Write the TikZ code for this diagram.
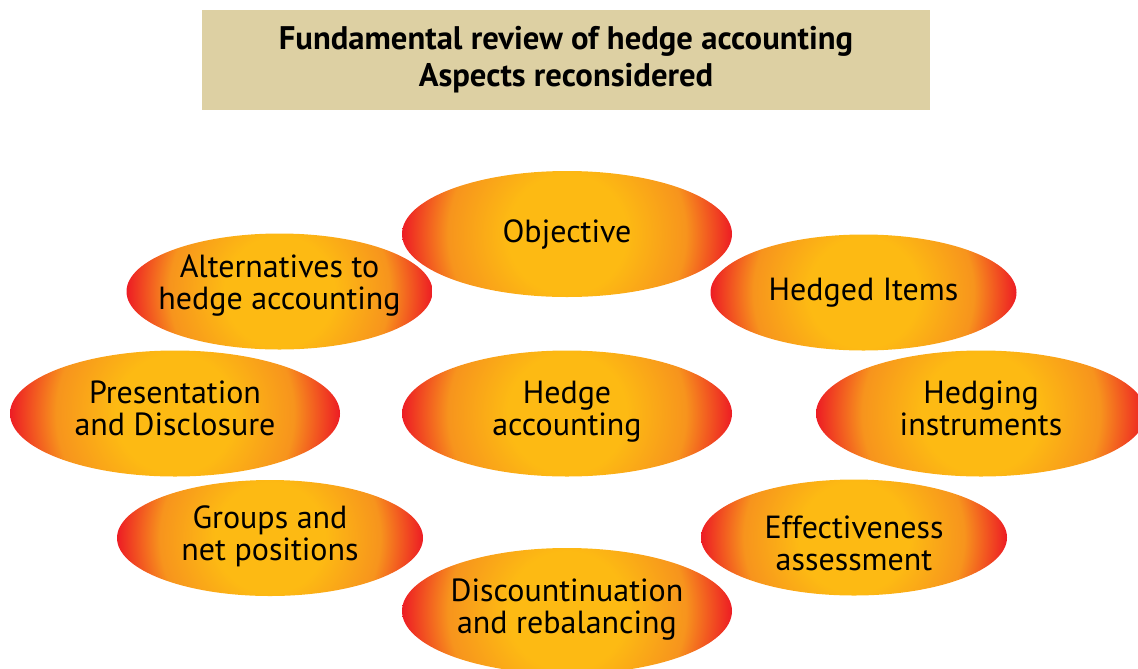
\documentclass[tikz,border=0pt]{standalone}
\usepackage{fontspec}
\setmainfont{PT Sans}
\usetikzlibrary{shapes.geometric}

\definecolor{hyellow}{HTML}{FDBA13}
\definecolor{horange}{HTML}{F7941D}
\definecolor{hred}{HTML}{ED1C24}
\definecolor{titlebg}{HTML}{DDD0A3}

% yellow core, red rim
\pgfdeclareradialshading{glow}{\pgfpoint{0bp}{0bp}}{color(0bp)=(hyellow); color(9bp)=(hyellow); color(18bp)=(horange); color(25bp)=(hred); color(50bp)=(hred)}

\tikzset{
  bubble/.style 2 args={ellipse, inner sep=0pt, minimum width=#1, minimum height=#2,
    path picture={\shade[shading=glow] (path picture bounding box.center) circle [radius=#1/2];}},
  bigbubble/.style={bubble={247.5pt}{94.5pt}},
  smallbubble/.style={bubble={229.5pt}{87pt}},
  bubtext/.style={align=center, text=black, font=\fontsize{24}{24}\selectfont}
}

\begin{document}
\begin{tikzpicture}[x=0.75pt, y=-0.75pt]
  \useasboundingbox (0,0) rectangle (1138,668);
  \clip (0,0) rectangle (1138,668);

  % Titel
  \node [fill=titlebg, minimum width=546pt, minimum height=75pt, inner sep=0pt, align=center,
         font=\bfseries\fontsize{24.5}{27.75}\selectfont] (title) at (566,60)
        {Fundamental review of hedge accounting\\Aspects reconsidered};

  % Aspekte
  \node [bigbubble, label={[bubtext]center:Objective}] (objective) at (567,234) {};
  \node [smallbubble, label={[bubtext, yshift=4.5pt]center:{Alternatives to\\hedge accounting}}] (alternatives) at (279.5,291.5) {};
  \node [smallbubble, label={[bubtext]center:Hedged Items}] (items) at (863.5,292.5) {};
  \node [bigbubble, label={[bubtext, yshift=3.5pt]center:{Presentation\\and Disclosure}}] (presentation) at (175,413.5) {};
  \node [bigbubble, label={[bubtext, yshift=1pt]center:{Hedge\\accounting}}] (hedge) at (567,413.5) {};
  \node [bigbubble, label={[bubtext, yshift=3.5pt]center:{Hedging\\instruments}}] (instruments) at (981,413.5) {};
  \node [smallbubble, label={[bubtext, yshift=1.5pt]center:{Groups and\\net positions}}] (groups) at (270,538) {};
  \node [smallbubble, label={[bubtext, yshift=-4.5pt]center:{Effectiveness\\assessment}}] (effectiveness) at (854,537.5) {};
  \node [bigbubble, label={[bubtext, yshift=1pt]center:{Discountinuation\\and rebalancing}}] (discontinuation) at (567,611) {};
\end{tikzpicture}
\end{document}
